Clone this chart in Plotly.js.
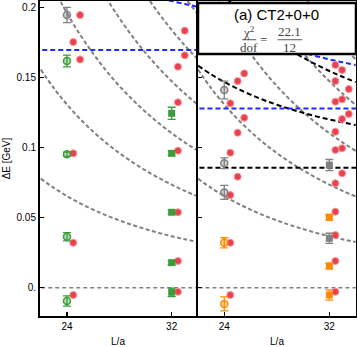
<!DOCTYPE html>
<html><head><meta charset="utf-8">
<script src="https://cdn.plot.ly/plotly-3.0.1.min.js"></script>
<style>html,body{margin:0;padding:0;background:#fff}</style>
</head><body><div id="chart" style="width:357px;height:347px"></div>
<script>
// ---- tick labels
const yTickVals = [0, 0.05, 0.1, 0.15, 0.2];
const yTickText = ['0.', '0.05', '0.1', '0.15', '0.2'];
const xTickVals = [24, 32];
const xTickText = ['24', '32'];

// ---- non-interacting level curves
const curveL = [22,23,24,25,26,27,28,29,30,31,32,33,34];
const grayN1 = [0.0779,0.0713,0.0655,0.0603,0.0558,0.0517,0.0481,0.0448,0.0419,0.0392,0.0368,0.0346,0.0326];
const grayN2 = [0.1558,0.1425,0.1309,0.1206,0.1115,0.1034,0.0962,0.0897,0.0838,0.0785,0.0736,0.0692,0.0652];
const grayN3 = [0.2335,0.2136,0.1962,0.1808,0.1672,0.1550,0.1441,0.1344,0.1256,0.1176,0.1104,0.1038,0.0978];
const grayN4L = [26,27,28,29,30,31,32,33,34];
const grayN4 = [0.2234,0.2071,0.1926,0.1795,0.1678,0.1571,0.1475,0.1387,0.1306];
const grayN5L = [28,29,30,31,32,33,34];
const grayN5 = [0.2404,0.2241,0.2094,0.1962,0.1841,0.1731,0.1631];
const grayN6L = [31,32,33,34];
const grayN6 = [0.2352,0.2207,0.2075,0.1955];
const zeroLevel = [0, 0];
const flatL = [21.5, 34.5];

// left panel blue threshold + curve
const blueLeftLevel = [0.1698, 0.1698];
const blueLeftL = [30,31,32,33,34];
const blueLeftCurve = [0.2095,0.2069,0.2047,0.2026,0.2007];

// right panel black threshold + curves, blue threshold + curve
const blackLevel = [0.0857, 0.0857];
const blackN1 = [0.1586,0.1524,0.1470,0.1422,0.1379,0.1341,0.1307,0.1277,0.1249,0.1224,0.1202,0.1181,0.1162];
const blackN2 = [0.2320,0.2195,0.2086,0.1990,0.1904,0.1828,0.1760,0.1699,0.1644,0.1594,0.1548,0.1507,0.1469];
const blueRightLevel = [0.1281, 0.1281];
const blueRightL = [28,29,30,31,32,33,34];
const blueRightCurve = [0.1738,0.1707,0.1679,0.1654,0.1631,0.1610,0.1591];

// ---- left panel data
const grayL24x = [24];
const grayL24y = [0.1948];
const grayL24e = [0.0055];
const green24x = [24,24,24,24];
const green24y = [0.1619,0.0953,0.0364,-0.0095];
const green24e = [0.0042,0.0015,0.0030,0.0037];
const green32x = [32,32,32,32,32];
const green32y = [0.1246,0.0960,0.0539,0.0179,-0.0033];
const green32e = [0.0043,0.0015,0.0015,0.0015,0.0030];
const redLx = [25.0,24.48,25.0,24.48,24.48,24.48, 33.0,33.0,32.48,32.48,32.48,32.48,32.48,32.48];
const redLy = [0.1948,0.1755,0.1631,0.0960,0.0321,-0.0052, 0.1836,0.1660,0.1579,0.1324,0.0979,0.0539,0.0191,-0.0029];

// ---- right panel data
const grayR24x = [24,24,24];
const grayR24y = [0.1412,0.0889,0.0681];
const grayR24e = [0.0063,0.0038,0.0050];
const orange24x = [24,24];
const orange24y = [0.0321,-0.0116];
const orange24e = [0.0036,0.0050];
const grayR32x = [32,32];
const grayR32y = [0.0876,0.0353];
const grayR32e = [0.0040,0.0036];
const orange32x = [32,32,32];
const orange32y = [0.0503,0.0155,-0.0052];
const orange32e = [0.0020,0.0020,0.0036];
const redRx = [25.52,25.02,24.46,25.52,25.02,24.46,25.02,24.46,24.46,24.46,
               32.46,32.97,32.46,33.48,32.97,32.46,33.48,32.97,32.46,32.97,32.46,32.97,32.46,32.46,32.46,32.46,32.46];
const redRy = [0.1531,0.1476,0.1317,0.1214,0.1107,0.0964,0.0793,0.0662,0.0321,-0.0052,
               0.1591,0.1555,0.1476,0.1419,0.1346,0.1329,0.1241,0.1205,0.1114,0.0996,0.0984,0.0817,0.0746,0.0543,0.0376,0.0191,-0.0029];

const titleText = '(a) CT2+0+0';
const chiNum = 'χ<sup>2</sup>', chiDen = 'dof', fitNum = '22.1', fitDen = '12';

// ---- styles
const GRAY = '#808080', BLUE = '#1f2bff';
const grayDash = {color: GRAY, width: 2, dash: '4px,2.5px'};
const zeroDash = {color: GRAY, width: 1.4, dash: '4px,3px'};
const blackDash = {color: '#000', width: 2, dash: '5px,3px'};
const blueDash = {color: BLUE, width: 2, dash: '5px,3px'};

function line(x, y, style, ax) {
  return {x: x, y: y, type: 'scatter', mode: 'lines', line: Object.assign({shape: 'spline'}, style),
          xaxis: ax[0], yaxis: ax[1], hoverinfo: 'skip', showlegend: false};
}
function pts(x, y, e, color, symbol, open, ax) {
  return {x: x, y: y, type: 'scatter', mode: 'markers', xaxis: ax[0], yaxis: ax[1], showlegend: false,
    marker: {symbol: symbol, size: 7, color: open ? color.replace(')', ',0.35)').replace('rgb', 'rgba') : color,
             line: {color: color, width: open ? 1.5 : 0}},
    error_y: {type: 'data', array: e, visible: true, color: color, thickness: 1.3, width: 4}};
}
function reds(x, y, ax) {
  return {x: x, y: y, type: 'scatter', mode: 'markers', xaxis: ax[0], yaxis: ax[1], showlegend: false,
    marker: {symbol: 'circle', size: 7, color: 'rgba(226,50,62,0.9)', line: {color: 'rgba(255,140,150,1)', width: 1}},
    error_y: {type: 'constant', value: 0.0012, visible: true, color: 'rgba(255,190,195,1)', thickness: 1, width: 2}};
}
const A = ['x', 'y'], B = ['x2', 'y2'];
const gG = 'rgb(128,128,128)', gGreen = 'rgb(58,158,58)', gOr = 'rgb(255,138,0)';

const traces = [
  line(flatL, zeroLevel, zeroDash, A),
  line(curveL, grayN1, grayDash, A), line(curveL, grayN2, grayDash, A), line(curveL, grayN3, grayDash, A),
  line(grayN4L, grayN4, grayDash, A), line(grayN5L, grayN5, grayDash, A), line(grayN6L, grayN6, grayDash, A),
  line(flatL, blueLeftLevel, blueDash, A), line(blueLeftL, blueLeftCurve, blueDash, A),

  line(flatL, zeroLevel, zeroDash, B),
  line(curveL, grayN1, grayDash, B), line(curveL, grayN2, grayDash, B), line(curveL, grayN3, grayDash, B),
  line(grayN4L, grayN4, grayDash, B), line(grayN5L, grayN5, grayDash, B),
  line(flatL, blackLevel, blackDash, B), line(curveL, blackN1, blackDash, B), line(curveL, blackN2, blackDash, B),
  line(flatL, blueRightLevel, blueDash, B), line(blueRightL, blueRightCurve, blueDash, B),

  reds(redLx, redLy, A),
  pts(grayL24x, grayL24y, grayL24e, gG, 'circle', true, A),
  pts(green24x, green24y, green24e, gGreen, 'circle', true, A),
  pts(green32x, green32y, green32e, gGreen, 'square', false, A),

  reds(redRx, redRy, B),
  pts(grayR24x, grayR24y, grayR24e, gG, 'circle', true, B),
  pts(orange24x, orange24y, orange24e, gOr, 'circle', true, B),
  pts(grayR32x, grayR32y, grayR32e, gG, 'square', false, B),
  pts(orange32x, orange32y, orange32e, gOr, 'square', false, B)
];

const FONT = 'Liberation Sans, Arial, sans-serif';
const SERIF = 'Liberation Serif, DejaVu Serif, serif';
const axCommon = {showline: true, linewidth: 2, linecolor: '#000', mirror: true, showgrid: false, zeroline: false,
  ticks: 'inside', ticklen: 4, tickwidth: 1.5, tickcolor: '#000', tickfont: {family: FONT, size: 10, color: '#000'}};
const yRange = [-0.0202, 0.2048];

const layout = {
  width: 357, height: 347, margin: {l: 40, r: 1, t: 1, b: 31},
  paper_bgcolor: '#fff', plot_bgcolor: '#fff', showlegend: false,
  font: {family: FONT, size: 10, color: '#000'},
  xaxis: Object.assign({}, axCommon, {domain: [0, 0.4937], range: [21.94, 33.86], tickvals: xTickVals, ticktext: xTickText,
    anchor: 'y', title: {text: 'L/a', font: {family: FONT, size: 10}, standoff: 8}}),
  xaxis2: Object.assign({}, axCommon, {domain: [0.5, 1], range: [22.0, 34.03], tickvals: xTickVals, ticktext: xTickText,
    anchor: 'y2', title: {text: 'L/a', font: {family: FONT, size: 10}, standoff: 8}}),
  yaxis: Object.assign({}, axCommon, {range: yRange, tickvals: yTickVals, ticktext: yTickText, anchor: 'x',
    title: {text: 'ΔE [GeV]', font: {family: FONT, size: 10}, standoff: 4}}),
  yaxis2: Object.assign({}, axCommon, {range: yRange, tickvals: yTickVals, showticklabels: false, anchor: 'x2'}),
  shapes: [
    {type: 'rect', xref: 'paper', yref: 'paper', x0: 0.5, x1: 1, y0: 0.8317, y1: 0.994,
     fillcolor: '#fff', line: {color: '#000', width: 2.5}, layer: 'above'},
    {type: 'line', xref: 'paper', yref: 'paper', x0: 0.640, x1: 0.684, y0: 0.877, y1: 0.877, line: {color: '#444', width: 0.9}, layer: 'above'},
    {type: 'line', xref: 'paper', yref: 'paper', x0: 0.752, x1: 0.830, y0: 0.877, y1: 0.877, line: {color: '#444', width: 0.9}, layer: 'above'}
  ],
  annotations: [
    {text: titleText, xref: 'paper', yref: 'paper', x: 0.749, y: 0.9556, showarrow: false, xanchor: 'center', yanchor: 'middle',
     font: {family: FONT, size: 15, color: '#000'}},
    {text: chiNum, xref: 'paper', yref: 'paper', x: 0.662, y: 0.902, showarrow: false, xanchor: 'center', yanchor: 'middle',
     font: {family: SERIF, size: 13, color: '#444'}},
    {text: chiDen, xref: 'paper', yref: 'paper', x: 0.662, y: 0.853, showarrow: false, xanchor: 'center', yanchor: 'middle',
     font: {family: SERIF, size: 13, color: '#444'}},
    {text: '=', xref: 'paper', yref: 'paper', x: 0.7085, y: 0.879, showarrow: false, xanchor: 'center', yanchor: 'middle',
     font: {family: SERIF, size: 13, color: '#444'}},
    {text: fitNum, xref: 'paper', yref: 'paper', x: 0.791, y: 0.902, showarrow: false, xanchor: 'center', yanchor: 'middle',
     font: {family: SERIF, size: 13, color: '#444'}},
    {text: fitDen, xref: 'paper', yref: 'paper', x: 0.791, y: 0.853, showarrow: false, xanchor: 'center', yanchor: 'middle',
     font: {family: SERIF, size: 13, color: '#444'}}
  ]
};

Plotly.newPlot('chart', traces, layout, {displayModeBar: false, staticPlot: true});
</script></body></html>
